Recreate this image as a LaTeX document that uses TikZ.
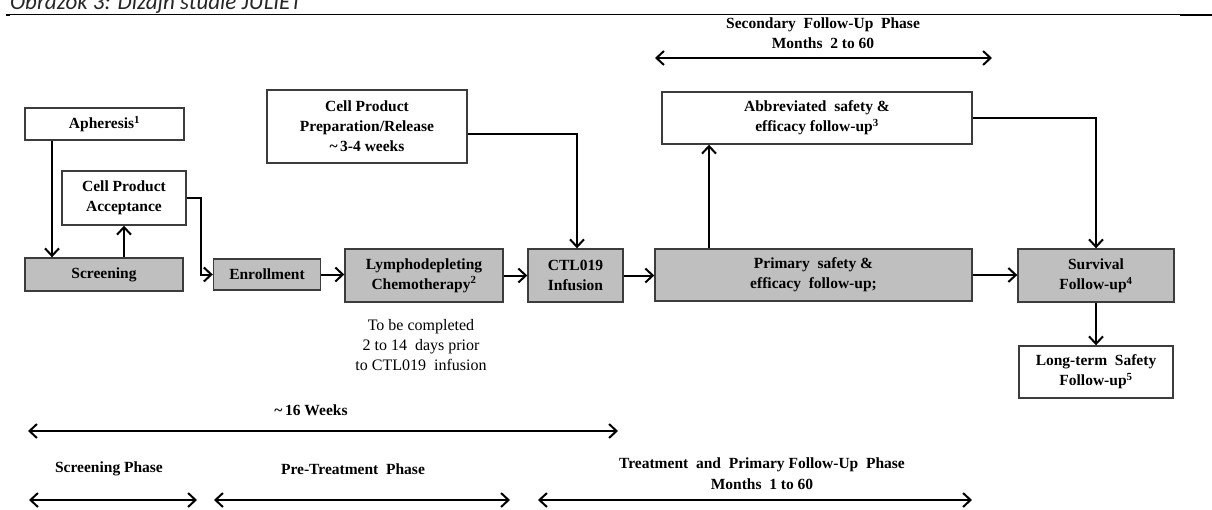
\documentclass[tikz,border=0pt]{standalone}
\usepackage{fontspec}
\setmainfont{Liberation Serif}
\newfontfamily\capfont{Carlito}
\usetikzlibrary{arrows.meta}
\definecolor{boxgray}{RGB}{191,191,191}
\definecolor{edgegray}{RGB}{60,60,60}
\begin{document}
\begin{tikzpicture}[x=1pt,y=-1pt,
  box/.style={draw=edgegray, line width=1.4pt, inner sep=0pt, align=center,
    font=\fontsize{15.5}{20}\selectfont\bfseries, text=black},
  gbox/.style={box, fill=boxgray},
  wbox/.style={box, fill=white},
  conn/.style={line width=2pt, -{Straight Barb[length=7.5pt,width=14pt]}},
  spanarrow/.style={line width=2pt, {Straight Barb[length=7.5pt,width=14pt]}-{Straight Barb[length=7.5pt,width=14pt]}},
  lbl/.style={font=\fontsize{15.5}{20.5}\selectfont\bfseries, align=center, inner sep=0pt},
  note/.style={font=\fontsize{16}{20}\selectfont, align=center, inner sep=0pt}]
\useasboundingbox (0,0) rectangle (1212,509);
\clip (0,0) rectangle (1212,509);
\fill[white] (0,0) rectangle (1212,509);

% caption (cut off at the top, as in the reference) and rule
\node[anchor=base west, inner sep=0pt, font=\capfont\itshape\fontsize{23}{23}\selectfont, text=black!85] (cap) at (10,9.5) {Obrázok 3: Dizajn štúdie JULIET};
\draw[line width=1pt] (7,14) -- (1212,14);
\draw[line width=2.5pt] (1180,14.8) -- (1212,14.8);
\draw[line width=2.5pt] (6,14.8) -- (10,14.8);

% boxes
\node[wbox, minimum width=159, minimum height=32] (aph) at (104.5,124) {Apheresis\textsuperscript{1}};
\node[wbox, minimum width=124, minimum height=54] (acc) at (124,198) {Cell Product\\Acceptance};
\node[gbox, minimum width=158, minimum height=33] (scr) at (104,274.5) {Screening};
\node[gbox, minimum width=107, minimum height=31] (enr) at (267,274.5) {Enrollment};
\node[gbox, minimum width=158, minimum height=53] (lym) at (424,275.5) {Lymphodepleting\\Chemotherapy\textsuperscript{2}};
\node[gbox, minimum width=95, minimum height=53] (ctl) at (575.5,275.5) {CTL019\\Infusion};
\node[wbox, minimum width=200, minimum height=73] (prep) at (367,126.5) {Cell Product\\Preparation/Release\\\textasciitilde\,3-4 weeks};
\node[wbox, minimum width=310, minimum height=52] (abb) at (817,118) {Abbreviated\ \ safety \&\\efficacy follow-up\textsuperscript{3}};
\node[gbox, minimum width=317, minimum height=52] (prim) at (813.5,275) {Primary\ \ safety \&\\efficacy\ \ follow-up;};
\node[gbox, minimum width=156, minimum height=53] (surv) at (1096,275.5) {Survival\\Follow-up\textsuperscript{4}};
\node[wbox, minimum width=154, minimum height=52] (long) at (1096,372) {Long-term\ \ Safety\\Follow-up\textsuperscript{5}};

\node[note] (cmt) at (421,345) {To be completed\\2 to 14\ \ days prior\\to CTL019\ \ infusion};

% connectors
\draw[conn] ([xshift=-52.5pt]aph.south) -- ([xshift=-52pt]scr.north);
\draw[conn] ([xshift=20pt]scr.north) -- (acc.south);
\draw[conn] (acc.east) -- ++(14,0) |- (enr.west);
\draw[conn] (enr.east) -- (enr.east -| lym.west);
\draw[conn] (lym.east) -- (lym.east -| ctl.west);
\draw[conn] ([yshift=-7.5pt]prep.east) -| ([xshift=1.5pt]ctl.north);
\draw[conn] (ctl.east) -- (ctl.east -| prim.west);
\draw[conn] ([xshift=-104.5pt]prim.north) -- ([xshift=-104.5pt]prim.north |- abb.south);
\draw[conn] (abb.east) -| (surv.north);
\draw[conn] (prim.east) -- (prim.east -| surv.west);
\draw[conn] (surv.south) -- (surv.south |- long.north);

% phase spans
\node[lbl] (secl) at (823,33) {Secondary\ \ Follow-Up\ \ Phase\\Months\ \ 2 to 60};
\coordinate (sa) at (655,58);
\coordinate (sb) at (992,58);
\draw[spanarrow] (sa) -- (sb);

\node[lbl] (wkl) at (311,410) {\textasciitilde\,16 Weeks};
\coordinate (wa) at (28,431);
\coordinate (wb) at (618,431);
\draw[spanarrow] (wa) -- (wb);

\node[lbl] (scl) at (109,469) {Screening Phase};
\coordinate (sca) at (29,500);
\coordinate (scb) at (197,500);
\draw[spanarrow] (sca) -- (scb);

\node[lbl] (ptl) at (353,469) {Pre-Treatment\ \ Phase};
\coordinate (pta) at (214,500);
\coordinate (ptb) at (510,500);
\draw[spanarrow] (pta) -- (ptb);

\node[lbl] (trl) at (762,473.5) {Treatment\ \ and\ \ Primary\ Follow-Up\ \ Phase\\Months\ \ 1 to 60};
\coordinate (tra) at (538,500);
\coordinate (trb) at (972,500);
\draw[spanarrow] (tra) -- (trb);
\end{tikzpicture}
\end{document}
